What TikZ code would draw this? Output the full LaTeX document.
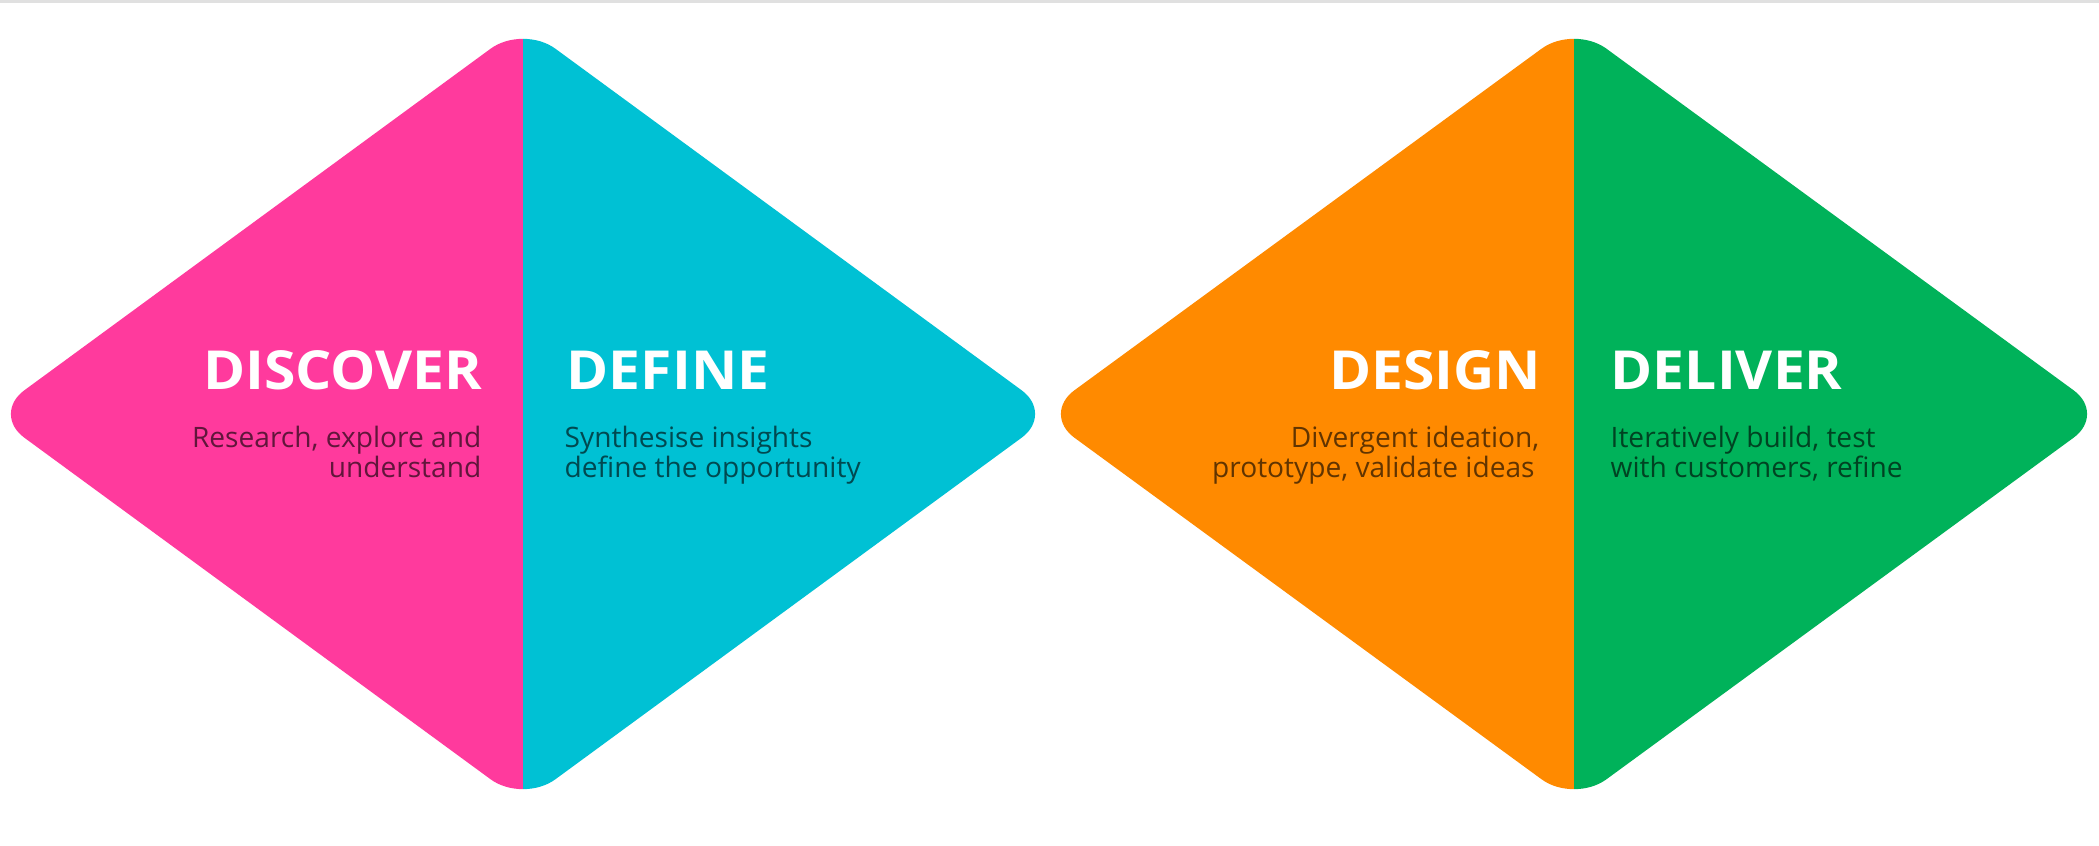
\documentclass[tikz,border=0pt]{standalone}
\usepackage{fontspec}
\setmainfont{Open Sans}
\newfontfamily\phasetitlefont[FakeStretch=1.06]{Open Sans}
\definecolor{dpink}{HTML}{FF3A9D}
\definecolor{dcyan}{HTML}{00C1D4}
\definecolor{dorange}{HTML}{FF8A00}
\definecolor{dgreen}{HTML}{00B25A}
\tikzset{
  phasetitle/.style={inner sep=0pt, text=white, font=\phasetitlefont\bfseries\fontsize{15.3}{18}\selectfont},
  phasetext/.style={inner sep=0pt, text=black, text opacity=0.62, font=\fontsize{8}{8.75}\selectfont},
  diamondshape/.style={rounded corners=0.4cm}
}
\begin{document}
\begin{tikzpicture}[x=0.01cm,y=-0.01cm]
\useasboundingbox (0,0) rectangle (2099,846);
\fill[white] (0,0) rectangle (2099,846);
\fill[black!12] (0,0) rectangle (2099,3);
% diamond 1
\begin{scope}
  \clip (-20,0) rectangle (523,846);
  \fill[dpink, diamondshape] (-8,414) -- (523,25) -- (1054,414) -- (523,803) -- cycle;
\end{scope}
\begin{scope}
  \clip (523,0) rectangle (1060,846);
  \fill[dcyan, diamondshape] (-8,414) -- (523,25) -- (1054,414) -- (523,803) -- cycle;
\end{scope}
% diamond 2
\begin{scope}
  \clip (1038,0) rectangle (1574,846);
  \fill[dorange, diamondshape] (1042,414) -- (1574,25) -- (2106,414) -- (1574,803) -- cycle;
\end{scope}
\begin{scope}
  \clip (1574,0) rectangle (2120,846);
  \fill[dgreen, diamondshape] (1042,414) -- (1574,25) -- (2106,414) -- (1574,803) -- cycle;
\end{scope}
% texts
\node[phasetitle, anchor=base east] (discover) at (483,390) {DISCOVER};
\node[phasetext, anchor=base east, align=right] (discovertext) at (482,478) {Research, explore and\\understand};
\node[phasetitle, anchor=base west] (define) at (566,390) {DEFINE};
\node[phasetext, anchor=base west, align=left] (definetext) at (564,478) {Synthesise insights\\define the opportunity};
\node[phasetitle, anchor=base east] (design) at (1542,390) {DESIGN};
\node[phasetext, anchor=base east, align=right] (designtext) at (1540,478) {Divergent ideation,\\prototype, validate ideas\,};
\node[phasetitle, anchor=base west] (deliver) at (1610,390) {DELIVER};
\node[phasetext, anchor=base west, align=left] (delivertext) at (1610,478) {Iteratively build, test\\with customers, refine};
\end{tikzpicture}
\end{document}
